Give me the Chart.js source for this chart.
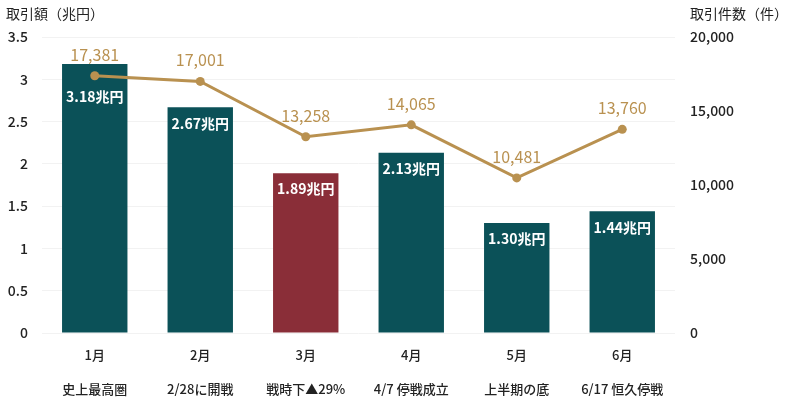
<!DOCTYPE html>
<html><head><meta charset="utf-8">
<script src="https://cdn.jsdelivr.net/npm/chart.js@4"></script>
<style>html,body{margin:0;padding:0;background:#fff}#wrap{width:800px;height:407px}</style>
</head><body><div id="wrap"><canvas id="c"></canvas></div>
<script>
const months = ['1月','2月','3月','4月','5月','6月'];
const notes = ['史上最高圏','2/28に開戦','戦時下▲29%','4/7 停戦成立','上半期の底','6/17 恒久停戦'];
const amounts = [3.18, 2.67, 1.89, 2.13, 1.30, 1.44];
const counts = [17381, 17001, 13258, 14065, 10481, 13760];
const amountLabels = ['3.18兆円','2.67兆円','1.89兆円','2.13兆円','1.30兆円','1.44兆円'];
const leftTitle = '取引額（兆円）';
const rightTitle = '取引件数（件）';

const FONT = '"Noto Sans CJK JP", "Noto Sans", sans-serif';
const TEAL = '#0b5158';
const RED = '#8a2e38';
const GOLD = '#b99150';

const labelPlugin = {
  id: 'labels',
  afterDatasetsDraw(chart) {
    const ctx = chart.ctx;
    ctx.save();
    const barMeta = chart.getDatasetMeta(1);
    ctx.font = 'bold 14px ' + FONT;
    ctx.fillStyle = '#ffffff';
    ctx.textAlign = 'center';
    ctx.textBaseline = 'middle';
    barMeta.data.forEach((el, i) => {
      const off = i === 0 ? 33 : 16;
      ctx.fillText(amountLabels[i], el.x, el.y + off);
    });
    const lineMeta = chart.getDatasetMeta(0);
    ctx.font = '16px ' + FONT;
    ctx.fillStyle = GOLD;
    lineMeta.data.forEach((el, i) => {
      ctx.fillText(counts[i].toLocaleString('en-US'), el.x, el.y - 21);
    });
    ctx.font = '14px ' + FONT;
    ctx.fillStyle = '#222';
    ctx.textAlign = 'left';
    ctx.fillText(leftTitle, 6, 14);
    ctx.fillText(rightTitle, 690, 14);
    ctx.restore();
  }
};

new Chart(document.getElementById('c'), {
  data: {
    labels: months.map((m, i) => [m, notes[i]]),
    datasets: [
      {
        type: 'line',
        data: counts,
        yAxisID: 'y2',
        borderColor: GOLD,
        backgroundColor: GOLD,
        borderWidth: 3,
        pointRadius: 4.5,
        pointBackgroundColor: GOLD,
        pointBorderWidth: 0,
        tension: 0,
        order: 0
      },
      {
        type: 'bar',
        data: amounts,
        yAxisID: 'y',
        backgroundColor: amounts.map((v, i) => i === 2 ? RED : TEAL),
        barPercentage: 0.62,
        categoryPercentage: 1,
        order: 1
      }
    ]
  },
  options: {
    responsive: true,
    maintainAspectRatio: false,
    animation: false,
    devicePixelRatio: 1,
    layout: { padding: { top: 37, left: 0, right: 0, bottom: 0 } },
    plugins: { legend: { display: false }, tooltip: { enabled: false } },
    scales: {
      x: {
        grid: { display: false, drawTicks: false },
        border: { display: false },
        ticks: {
          padding: 5,
          color: '#222',
          font: { family: FONT, size: 13, weight: '500', lineHeight: 34 / 13 },
          maxRotation: 0,
          autoSkip: false
        },
        afterFit(s) { s.height = 74; }
      },
      y: {
        position: 'left',
        min: 0, max: 3.5,
        ticks: { stepSize: 0.5, padding: 14, color: '#222', font: { family: FONT, size: 14, weight: '500' },
          callback: v => String(v) },
        grid: { color: '#f2f2f2', drawTicks: false, lineWidth: 1 },
        border: { display: false },
        afterFit(s) { s.width = 42; }
      },
      y2: {
        position: 'right',
        min: 0, max: 20000,
        ticks: {
          stepSize: 5000, padding: 15, color: '#222',
          font: { family: FONT, size: 14, weight: '500' },
          callback: v => v.toLocaleString('en-US')
        },
        grid: { display: false, drawTicks: false },
        border: { display: false },
        afterFit(s) { s.width = 125; }
      }
    }
  },
  plugins: [labelPlugin]
});
</script></body></html>
